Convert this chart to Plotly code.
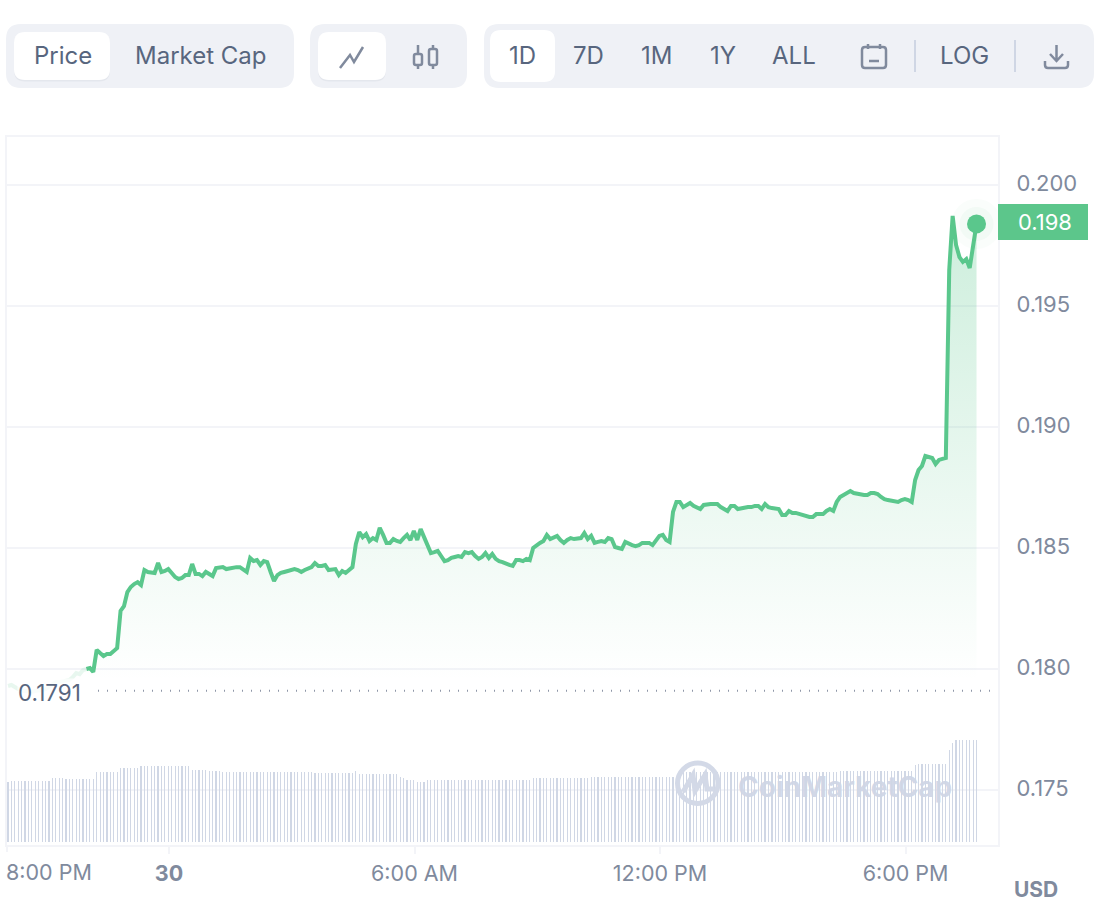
import re

import pandas as pd
import plotly.graph_objects as go

W, H = 1099, 911
GREEN = "#5AC78C"
TEXT = "#58667E"
MUTED = "#808A9D"
BORDER = "#F3F4F8"
PANEL = "#EFF1F6"
FONT = "Inter"

# precio cada 5 minutos
price = [
    .17930, .17934, .17926, .17917, .17909, .17909, .17905, .17905, .17909, .17909,
    .17913, .17917, .17926, .17938, .17946, .17946, .17950, .17950, .17955, .17967,
    .17983, .17979, .17996, .18000, .18004, .17988, .18079, .18066, .18054, .18062,
    .18062, .18074, .18087, .18240, .18260, .18318, .18339, .18351, .18359, .18347,
    .18409, .18401, .18401, .18397, .18438, .18401, .18405, .18413, .18397, .18380,
    .18372, .18376, .18388, .18388, .18434, .18393, .18393, .18384, .18401, .18393,
    .18384, .18417, .18421, .18421, .18413, .18417, .18417, .18421, .18421, .18413,
    .18401, .18459, .18446, .18450, .18430, .18446, .18442, .18401, .18364, .18388,
    .18397, .18401, .18405, .18409, .18413, .18409, .18401, .18409, .18417, .18421,
    .18438, .18426, .18426, .18430, .18409, .18413, .18413, .18388, .18405, .18397,
    .18409, .18421, .18517, .18566, .18545, .18558, .18529, .18541, .18533, .18583,
    .18554, .18521, .18521, .18537, .18529, .18525, .18541, .18554, .18533, .18570,
    .18533, .18578, .18545, .18508, .18479, .18483, .18488, .18467, .18446, .18450,
    .18459, .18463, .18467, .18463, .18483, .18479, .18483, .18467, .18455, .18463,
    .18479, .18459, .18475, .18455, .18446, .18442, .18434, .18430, .18426, .18450,
    .18450, .18446, .18455, .18450, .18500, .18512, .18521, .18529, .18554, .18537,
    .18545, .18550, .18533, .18521, .18533, .18541, .18537, .18537, .18541, .18562,
    .18537, .18550, .18521, .18525, .18529, .18525, .18541, .18537, .18504, .18500,
    .18496, .18525, .18517, .18512, .18508, .18512, .18521, .18521, .18521, .18512,
    .18533, .18550, .18554, .18533, .18525, .18649, .18690, .18690, .18669, .18678,
    .18686, .18674, .18669, .18661, .18678, .18682, .18682, .18682, .18682, .18669,
    .18661, .18653, .18674, .18674, .18661, .18665, .18665, .18669, .18669, .18674,
    .18674, .18661, .18682, .18669, .18665, .18661, .18661, .18636, .18636, .18653,
    .18645, .18645, .18640, .18636, .18632, .18628, .18628, .18640, .18640, .18640,
    .18653, .18661, .18653, .18690, .18711, .18719, .18727, .18735, .18727, .18723,
    .18723, .18719, .18719, .18727, .18727, .18723, .18711, .18702, .18698, .18694,
    .18690, .18690, .18698, .18702, .18698, .18690, .18781, .18822, .18839, .18880,
    .18876, .18872, .18847, .18864, .18868, .18872, .19649, .19872, .19752, .19702,
    .19682, .19694, .19657, .19752, .19839,
]

volume = [
    60, 61, 61, 61, 61, 61, 61, 61, 61, 61, 61, 61, 61, 64, 64, 64, 64, 63, 63, 63,
    63, 63, 63, 63, 63, 63, 70, 70, 70, 70, 70, 70, 70, 74, 74, 74, 74, 74, 74, 76,
    76, 76, 76, 76, 76, 76, 76, 76, 76, 76, 76, 76, 76, 76, 72, 72, 72, 72, 72, 71,
    71, 71, 71, 70, 70, 70, 70, 70, 70, 70, 70, 70, 70, 70, 70, 70, 70, 70, 70, 70,
    70, 70, 70, 70, 70, 70, 70, 70, 70, 70, 69, 69, 69, 69, 69, 69, 69, 69, 69, 69,
    69, 69, 71, 68, 68, 68, 68, 68, 68, 68, 68, 68, 68, 68, 68, 65, 64, 62, 62, 62,
    60, 60, 60, 62, 62, 62, 62, 62, 62, 62, 62, 62, 62, 62, 62, 62, 62, 62, 62, 62,
    62, 62, 62, 62, 62, 62, 62, 62, 62, 62, 62, 62, 62, 62, 64, 64, 64, 64, 64, 64,
    64, 64, 64, 64, 64, 64, 64, 64, 64, 64, 64, 65, 65, 65, 65, 65, 65, 65, 65, 65,
    65, 65, 65, 65, 65, 65, 65, 65, 65, 65, 65, 65, 65, 65, 65, 65, 65, 70, 70, 70,
    70, 70, 70, 70, 70, 70, 70, 70, 70, 70, 70, 70, 70, 70, 70, 70, 70, 70, 70, 70,
    70, 70, 70, 70, 70, 70, 70, 70, 70, 70, 70, 70, 70, 70, 70, 70, 70, 70, 70, 70,
    70, 70, 70, 70, 71, 71, 71, 71, 71, 71, 71, 71, 71, 71, 71, 71, 71, 71, 71, 71,
    71, 71, 71, 71, 71, 71, 77, 78, 78, 78, 78, 78, 78, 78, 78, 78, 92, 99, 102, 102,
    102, 102, 102, 102, 102,
]

open_price = 0.1791
last_label = "0.198"
y_ticks = [0.175, 0.180, 0.185, 0.190, 0.195, 0.200]
x_ticks = ["2023-11-30 00:00", "2023-11-30 06:00", "2023-11-30 12:00", "2023-11-30 18:00"]
x_labels = ["<b>30</b>", "6:00 AM", "12:00 PM", "6:00 PM"]

times = pd.date_range("2023-11-29 20:04", periods=len(price), freq="5min")
N_FAINT = 24  # la linea casi no se ve antes de este punto


def px(x):
    return x / W


def py(y):
    return 1 - y / H


def to_paper(path):
    # los paths se escriben en pixeles de pagina, como pares x y
    def pair(m):
        return f"{px(float(m.group(1)))} {py(float(m.group(2)))}"
    return re.sub(r"(-?[\d.]+) (-?[\d.]+)", pair, path)


def rrect(x0, y0, x1, y1, r):
    return (f"M{x0+r} {y0} L{x1-r} {y0} Q{x1} {y0} {x1} {y0+r} L{x1} {y1-r} Q{x1} {y1} {x1-r} {y1} "
            f"L{x0+r} {y1} Q{x0} {y1} {x0} {y1-r} L{x0} {y0+r} Q{x0} {y0} {x0+r} {y0} Z")


def box(x0, y0, x1, y1, r, color):
    return dict(type="path", path=to_paper(rrect(x0, y0, x1, y1, r)), xref="paper", yref="paper",
                fillcolor=color, line=dict(width=0), layer="below")


def stroke(path, color=MUTED, width=2.5):
    return dict(type="path", path=to_paper(path), xref="paper", yref="paper",
                line=dict(color=color, width=width))


def label(x, y, text, size=24, color=TEXT, anchor="center", bgcolor=None):
    return dict(x=px(x), y=py(y), xref="paper", yref="paper", text=text, showarrow=False,
                xanchor=anchor, yanchor="middle", bgcolor=bgcolor, borderpad=0,
                font=dict(family=FONT, size=size, color=color))


fig = go.Figure()

fig.add_trace(go.Bar(x=times, y=volume, yaxis="y2", width=105000,
                     marker=dict(color="#D0D7E5", line=dict(width=0))))

# base para el relleno
fig.add_trace(go.Scatter(x=times[N_FAINT - 1:], y=[open_price] * (len(price) - N_FAINT + 1),
                         mode="lines", line=dict(width=0), hoverinfo="skip"))
fig.add_trace(go.Scatter(x=times[N_FAINT - 1:], y=price[N_FAINT - 1:], mode="lines",
                         line=dict(color=GREEN, width=4), fill="tonexty",
                         fillgradient=dict(type="vertical", start=0.1795, stop=0.1985,
                                           colorscale=[[0, "rgba(90,199,140,0.0)"],
                                                       [1, "rgba(90,199,140,0.30)"]])))
fig.add_trace(go.Scatter(x=times[:N_FAINT], y=price[:N_FAINT], mode="lines",
                         line=dict(color="rgba(90,199,140,0.14)", width=4)))

# punto final con halo
for size, color in [(50, "rgba(90,199,140,0.03)"), (34, "rgba(90,199,140,0.05)"), (19, GREEN)]:
    fig.add_trace(go.Scatter(x=times[-1:], y=price[-1:], mode="markers",
                             marker=dict(size=size, color=color, line=dict(width=0))))

shapes = [
    box(6, 24, 294, 88, 15, PANEL),
    box(310, 24, 467, 88, 15, PANEL),
    box(484, 24, 1094, 88, 15, PANEL),
    box(14, 33, 110, 81.5, 11, "#E4E7ED"),
    box(14, 32, 110, 80, 11, "#FFFFFF"),
    box(318, 33, 386, 81.5, 11, "#E4E7ED"),
    box(318, 32, 386, 80, 11, "#FFFFFF"),
    box(490, 30, 555, 82, 11, "#FFFFFF"),
    # iconos
    stroke("M340 68 L350 55 L354 62 L363 47"),
    stroke("M418 45 L418 54 M418 65 L418 69 M433 45 L433 49 M433 65 L433 69"),
    stroke(rrect(414, 54, 422, 65, 2)),
    stroke(rrect(429, 49, 437, 65, 2)),
    stroke(rrect(862, 47, 886, 68, 3)),
    stroke("M868 44 L868 49 M880 44 L880 49 M869 61 L879 61"),
    stroke("M915 40 L915 72", "#CFD6E4", 2),
    stroke("M1015 40 L1015 72", "#CFD6E4", 2),
    stroke("M1056.5 45 L1056.5 61 M1050 54 L1056.5 61 L1063 54"),
    stroke("M1045 61 L1045 65 Q1045 68 1048 68 L1065 68 Q1068 68 1068 65 L1068 61"),
    # linea de apertura
    dict(type="line", xref="paper", yref="y", x0=px(98), x1=px(992), y0=open_price, y1=open_price,
         line=dict(color="#8F97A8", width=2, dash="1px 8px")),
    stroke("M7 845 L7 852", BORDER, 2),
    # etiqueta precio actual
    dict(type="rect", xref="paper", yref="paper", x0=px(998), x1=px(1088), y0=py(204), y1=py(240),
         fillcolor="#5CC68B", line=dict(width=0)),
    # marca de agua
    dict(type="circle", xref="paper", yref="paper", x0=px(677.5), x1=px(718), y0=py(763), y1=py(803.5),
         line=dict(color="#D3D9E7", width=5)),
    stroke("M683 792 L693 775 L695 791 L705 775 L707 789 L714 789", "#D3D9E7", 5),
]

annotations = [
    label(63, 55, "Price"),
    label(201, 55, "Market Cap"),
    label(522, 56, "1D"),
    label(588, 56, "7D"),
    label(656, 56, "1M"),
    label(722.5, 56, "1Y"),
    label(794, 56, "ALL"),
    label(964.5, 55, "LOG"),
    label(17, 692, "0.1791", 22.5, TEXT, "left", "rgba(255,255,255,0.75)"),
    label(1017, 222, last_label, 22, "#FFFFFF", "left"),
    label(5, 872, "8:00 PM", 21.5, MUTED, "left"),
    label(1013, 889, "<b>USD</b>", 21, MUTED, "left"),
    label(845, 787, "<b>CoinMarketCap</b>", 28, "rgba(207,214,230,0.95)"),
]

fig.update_layout(
    width=W, height=H, margin=dict(l=0, r=0, t=0, b=0),
    paper_bgcolor="white", plot_bgcolor="white",
    showlegend=False, hovermode=False, bargap=0,
    font=dict(family=FONT, color=MUTED, size=22),
    shapes=shapes, annotations=annotations,
    xaxis=dict(type="date", domain=[7 / W, 998 / W], anchor="y",
               range=["2023-11-29 20:02:30", "2023-11-30 20:15:30"],
               tickvals=x_ticks, ticktext=x_labels, showgrid=False, zeroline=False,
               ticks="outside", ticklen=7, tickwidth=2, tickcolor=BORDER,
               showline=True, mirror=True, linecolor=BORDER, linewidth=2,
               ticklabelstandoff=1, tickfont=dict(size=21.5, color=MUTED)),
    yaxis=dict(domain=[(H - 845) / H, (H - 137) / H], anchor="x", side="right",
               range=[0.17273, 0.20198], tickvals=y_ticks, tickformat=".3f",
               gridcolor=BORDER, gridwidth=2, zeroline=False,
               ticks="outside", ticklen=12, tickcolor="rgba(0,0,0,0)",
               showline=True, mirror=True, linecolor=BORDER, linewidth=2,
               ticklabelshift=-2, tickfont=dict(size=22, color=MUTED)),
    yaxis2=dict(overlaying="y", range=[-3, 705], visible=False),
)

# staticPlot evita que las barras se redondeen a pixeles enteros
fig.write_html("out.html", config=dict(staticPlot=True),
               post_script="document.body.style.margin='0';document.body.style.overflow='hidden';")
